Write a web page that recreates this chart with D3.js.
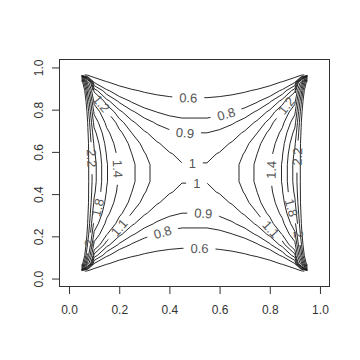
<!DOCTYPE html>
<html>
<head>
<meta charset="utf-8">
<script src="https://cdn.jsdelivr.net/npm/d3@7"></script>
<style>
  body { margin: 0; background: #fff; }
  svg { display: block; }
</style>
</head>
<body>
<div id="chart"></div>
<script>
// grid of the surface (x across, y up); 0.5 itself is not a grid column
const xs = [0.05, 0.075, 0.1, 0.15, 0.2, 0.25, 0.3, 0.35, 0.4, 0.45, 0.55, 0.6, 0.65, 0.7, 0.75, 0.8, 0.85, 0.9, 0.925, 0.95];
const ys = [0.035, 0.07, 0.11, 0.16, 0.21, 0.26, 0.31, 0.36, 0.41, 0.46, 0.54, 0.59, 0.64, 0.69, 0.74, 0.79, 0.84, 0.89, 0.93, 0.965];

// z[row for ys[j]][col for xs[i]]
const z = [
  [0.65, 0.55, 0.494, 0.384, 0.326, 0.291, 0.268, 0.253, 0.244, 0.238, 0.238, 0.244, 0.253, 0.268, 0.291, 0.326, 0.384, 0.494, 0.55, 0.65],
  [2.6, 1.5, 0.792, 0.616, 0.523, 0.467, 0.430, 0.406, 0.391, 0.382, 0.382, 0.391, 0.406, 0.430, 0.467, 0.523, 0.616, 0.792, 1.5, 2.6],
  [2.9, 1.9, 1.063, 0.827, 0.702, 0.626, 0.577, 0.545, 0.524, 0.513, 0.513, 0.524, 0.545, 0.577, 0.626, 0.702, 0.827, 1.063, 1.9, 2.9],
  [3.0, 2.15, 1.335, 1.039, 0.882, 0.787, 0.725, 0.685, 0.659, 0.644, 0.644, 0.659, 0.685, 0.725, 0.787, 0.882, 1.039, 1.335, 2.15, 3.0],
  [3.0, 2.3, 1.553, 1.209, 1.026, 0.916, 0.844, 0.797, 0.767, 0.750, 0.750, 0.767, 0.797, 0.844, 0.916, 1.026, 1.209, 1.553, 2.3, 3.0],
  [3.0, 2.38, 1.728, 1.345, 1.142, 1.019, 0.939, 0.886, 0.853, 0.834, 0.834, 0.853, 0.886, 0.939, 1.019, 1.142, 1.345, 1.728, 2.38, 3.0],
  [3.0, 2.42, 1.865, 1.452, 1.233, 1.0995, 1.014, 0.957, 0.921, 0.9003, 0.9003, 0.921, 0.957, 1.014, 1.0995, 1.233, 1.452, 1.865, 2.42, 3.0],
  [3.0, 2.45, 1.968, 1.531, 1.300, 1.160, 1.069, 1.009, 0.971, 0.950, 0.950, 0.971, 1.009, 1.069, 1.160, 1.300, 1.531, 1.968, 2.45, 3.0],
  [3.0, 2.45, 2.038, 1.586, 1.347, 1.201, 1.107, 1.045, 1.006, 0.984, 0.984, 1.006, 1.045, 1.107, 1.201, 1.347, 1.586, 2.038, 2.45, 3.0],
  [3.0, 2.45, 2.077, 1.616, 1.373, 1.225, 1.129, 1.065, 1.025, 1.003, 1.003, 1.025, 1.065, 1.129, 1.225, 1.373, 1.616, 2.077, 2.45, 3.0],
  [3.0, 2.45, 2.077, 1.616, 1.373, 1.225, 1.129, 1.065, 1.025, 1.003, 1.003, 1.025, 1.065, 1.129, 1.225, 1.373, 1.616, 2.077, 2.45, 3.0],
  [3.0, 2.45, 2.038, 1.586, 1.347, 1.201, 1.107, 1.045, 1.006, 0.984, 0.984, 1.006, 1.045, 1.107, 1.201, 1.347, 1.586, 2.038, 2.45, 3.0],
  [3.0, 2.45, 1.968, 1.531, 1.300, 1.160, 1.069, 1.009, 0.971, 0.950, 0.950, 0.971, 1.009, 1.069, 1.160, 1.300, 1.531, 1.968, 2.45, 3.0],
  [3.0, 2.42, 1.865, 1.452, 1.233, 1.0995, 1.014, 0.957, 0.921, 0.9003, 0.9003, 0.921, 0.957, 1.014, 1.0995, 1.233, 1.452, 1.865, 2.42, 3.0],
  [3.0, 2.38, 1.728, 1.345, 1.142, 1.019, 0.939, 0.886, 0.853, 0.834, 0.834, 0.853, 0.886, 0.939, 1.019, 1.142, 1.345, 1.728, 2.38, 3.0],
  [3.0, 2.3, 1.553, 1.209, 1.026, 0.916, 0.844, 0.797, 0.767, 0.750, 0.750, 0.767, 0.797, 0.844, 0.916, 1.026, 1.209, 1.553, 2.3, 3.0],
  [3.0, 2.15, 1.335, 1.039, 0.882, 0.787, 0.725, 0.685, 0.659, 0.644, 0.644, 0.659, 0.685, 0.725, 0.787, 0.882, 1.039, 1.335, 2.15, 3.0],
  [2.9, 1.9, 1.063, 0.827, 0.702, 0.626, 0.577, 0.545, 0.524, 0.513, 0.513, 0.524, 0.545, 0.577, 0.626, 0.702, 0.827, 1.063, 1.9, 2.9],
  [2.6, 1.5, 0.792, 0.616, 0.523, 0.467, 0.430, 0.406, 0.391, 0.382, 0.382, 0.391, 0.406, 0.430, 0.467, 0.523, 0.616, 0.792, 1.5, 2.6],
  [0.65, 0.55, 0.494, 0.384, 0.326, 0.291, 0.268, 0.253, 0.244, 0.238, 0.238, 0.244, 0.253, 0.268, 0.291, 0.326, 0.384, 0.494, 0.55, 0.65]
];

const levels = [0.6, 0.8, 0.9, 1, 1.1, 1.2, 1.4, 1.6, 1.8, 2, 2.2, 2.4];
const xTicks = [0, 0.2, 0.4, 0.6, 0.8, 1];
const yTicks = [0, 0.2, 0.4, 0.6, 0.8, 1];

// where each contour label sits (level, near x, near y) - snapped onto the line
const labelSpots = [
  [0.6, 0.475, 0.85], [0.6, 0.52, 0.155],
  [0.8, 0.625, 0.785], [0.8, 0.37, 0.23],
  [0.9, 0.462, 0.696], [0.9, 0.535, 0.31],
  [1, 0.491, 0.562], [1, 0.509, 0.448],
  [1.1, 0.19, 0.25], [1.1, 0.8, 0.23],
  [1.2, 0.13, 0.83], [1.2, 0.861, 0.823],
  [1.4, 0.196, 0.52], [1.4, 0.8, 0.515],
  [1.8, 0.124, 0.333], [1.8, 0.88, 0.333],
  [2, 0.068, 0.17], [2, 0.92, 0.21],
  [2.2, 0.09, 0.57], [2.2, 0.904, 0.578]
];

const W = 360, H = 360;
const margin = { top: 59, right: 30, bottom: 73, left: 59 };
const labelFont = 13, labelGap = 7;

const svg = d3.select('#chart').append('svg')
  .attr('width', W)
  .attr('height', H);

const x = d3.scaleLinear().domain([-0.04, 1.04]).range([margin.left, W - margin.right]);
const y = d3.scaleLinear().domain([-0.04, 1.04]).range([H - margin.bottom, margin.top]);

// marching squares -> edge keys, stitched into polylines
function traceLevel(level) {
  const segs = [];
  for (let j = 0; j < ys.length - 1; j++) {
    for (let i = 0; i < xs.length - 1; i++) {
      const a = z[j][i] >= level, b = z[j][i + 1] >= level;
      const c = z[j + 1][i + 1] >= level, d = z[j + 1][i] >= level;
      const B = 'h' + i + ',' + j, R = 'v' + (i + 1) + ',' + j;
      const T = 'h' + i + ',' + (j + 1), L = 'v' + i + ',' + j;
      const hit = [];
      if (a !== b) hit.push(B);
      if (b !== c) hit.push(R);
      if (c !== d) hit.push(T);
      if (d !== a) hit.push(L);
      if (hit.length === 2) segs.push(hit);
      else if (hit.length === 4) {
        const mid = (z[j][i] + z[j][i + 1] + z[j + 1][i + 1] + z[j + 1][i]) / 4 >= level;
        if (mid === a) { segs.push([B, R]); segs.push([T, L]); }
        else { segs.push([B, L]); segs.push([R, T]); }
      }
    }
  }
  const byKey = new Map();
  segs.forEach((s, k) => s.forEach(e => {
    if (!byKey.has(e)) byKey.set(e, []);
    byKey.get(e).push(k);
  }));
  const used = segs.map(() => false);
  const lines = [];
  const walk = (k, start) => {
    const keys = [start];
    let cur = k, at = start;
    while (cur !== undefined) {
      used[cur] = true;
      const next = segs[cur][0] === at ? segs[cur][1] : segs[cur][0];
      keys.push(next);
      at = next;
      cur = byKey.get(next).find(m => !used[m]);
    }
    return keys;
  };
  segs.forEach((s, k) => {
    if (used[k]) return;
    const open = s.find(e => byKey.get(e).length === 1);
    if (open) lines.push(walk(k, open));
  });
  segs.forEach((s, k) => { if (!used[k]) lines.push(walk(k, s[0])); });
  return lines.map(keys => keys.map(key => edgePoint(key, level)));
}

function edgePoint(key, level) {
  const [i, j] = key.slice(1).split(',').map(Number);
  if (key[0] === 'h') {
    const p = (level - z[j][i]) / (z[j][i + 1] - z[j][i]);
    return [x(xs[i] + p * (xs[i + 1] - xs[i])), y(ys[j])];
  }
  const p = (level - z[j][i]) / (z[j + 1][i] - z[j][i]);
  return [x(xs[i]), y(ys[j] + p * (ys[j + 1] - ys[j]))];
}

function cumLen(pts) {
  const c = [0];
  for (let k = 1; k < pts.length; k++) {
    c.push(c[k - 1] + Math.hypot(pts[k][0] - pts[k - 1][0], pts[k][1] - pts[k - 1][1]));
  }
  return c;
}

function pointAt(pts, cum, s) {
  s = Math.max(0, Math.min(cum[cum.length - 1], s));
  let k = 0;
  while (k < cum.length - 2 && cum[k + 1] < s) k++;
  const seg = cum[k + 1] - cum[k] || 1;
  const t = (s - cum[k]) / seg;
  return [pts[k][0] + t * (pts[k + 1][0] - pts[k][0]), pts[k][1] + t * (pts[k + 1][1] - pts[k][1])];
}

function measure(txt) {
  const t = svg.append('text')
    .attr('font-family', 'Liberation Sans, Arial, sans-serif')
    .attr('font-size', labelFont)
    .text(txt);
  const w = t.node().getComputedTextLength();
  t.remove();
  return w;
}

const contours = levels.map(level => ({
  level,
  lines: traceLevel(level).map(pts => ({ pts, cum: cumLen(pts), cuts: [] }))
}));

const labels = [];
labelSpots.forEach(([level, lx, ly]) => {
  const c = contours.find(d => d.level === level);
  if (!c) return;
  const px = x(lx), py = y(ly);
  let best = null;
  c.lines.forEach(line => {
    line.pts.forEach((p, k) => {
      if (k === line.pts.length - 1) return;
      const q = line.pts[k + 1];
      const dx = q[0] - p[0], dy = q[1] - p[1];
      const len2 = dx * dx + dy * dy || 1;
      const t = Math.max(0, Math.min(1, ((px - p[0]) * dx + (py - p[1]) * dy) / len2));
      const d = Math.hypot(p[0] + t * dx - px, p[1] + t * dy - py);
      if (!best || d < best.d) best = { d, line, s: line.cum[k] + t * (line.cum[k + 1] - line.cum[k]) };
    });
  });
  if (!best) return;
  const text = String(level);
  const w = measure(text);
  const half = w / 2 + labelGap;
  const L = best.line.cum[best.line.cum.length - 1];
  if (L < 2 * half) return;
  const s = Math.max(half, Math.min(L - half, best.s));
  const p0 = pointAt(best.line.pts, best.line.cum, s - w / 2);
  const p1 = pointAt(best.line.pts, best.line.cum, s + w / 2);
  let ang = Math.atan2(p1[1] - p0[1], p1[0] - p0[0]) * 180 / Math.PI;
  if (ang > 90) ang -= 180;
  if (ang <= -90) ang += 180;
  const at = pointAt(best.line.pts, best.line.cum, s);
  best.line.cuts.push([s - half, s + half]);
  labels.push({ text, at, ang });
});

// split each polyline around its label gaps
function visibleParts(line) {
  const L = line.cum[line.cum.length - 1];
  const cuts = line.cuts.slice().sort((a, b) => a[0] - b[0]);
  const ranges = [];
  let from = 0;
  cuts.forEach(([a, b]) => { if (a > from) ranges.push([from, a]); from = Math.max(from, b); });
  if (from < L) ranges.push([from, L]);
  return ranges.map(([a, b]) => {
    const pts = [pointAt(line.pts, line.cum, a)];
    line.pts.forEach((p, k) => { if (line.cum[k] > a && line.cum[k] < b) pts.push(p); });
    pts.push(pointAt(line.pts, line.cum, b));
    return pts;
  });
}

const lineGen = d3.line();
const parts = [];
contours.forEach(c => c.lines.forEach(line => visibleParts(line).forEach(p => parts.push(p))));

svg.append('g')
  .selectAll('path')
  .data(parts)
  .enter().append('path')
  .attr('d', lineGen)
  .attr('fill', 'none')
  .attr('stroke', '#111')
  .attr('stroke-width', 0.9)
  .attr('stroke-linejoin', 'round');

svg.append('g')
  .selectAll('text')
  .data(labels)
  .enter().append('text')
  .attr('transform', d => `translate(${d.at[0]},${d.at[1]}) rotate(${d.ang})`)
  .attr('text-anchor', 'middle')
  .attr('dy', '0.36em')
  .attr('font-family', 'Liberation Sans, Arial, sans-serif')
  .attr('font-size', labelFont)
  .attr('fill', '#555')
  .text(d => d.text);

// axes
svg.append('g')
  .attr('transform', `translate(0,${H - margin.bottom})`)
  .call(d3.axisBottom(x).tickValues(xTicks).tickFormat(d3.format('.1f')).tickSize(7).tickPadding(11.5))
  .call(g => g.select('.domain').remove())
  .attr('font-family', 'Liberation Sans, Arial, sans-serif')
  .attr('font-size', 12)
  .call(g => g.selectAll('.tick line').attr('stroke', '#333'))
  .call(g => g.selectAll('.tick text').attr('fill', '#333'));

svg.append('g')
  .attr('transform', `translate(${margin.left},0)`)
  .call(d3.axisLeft(y).tickValues(yTicks).tickFormat(d3.format('.1f')).tickSize(7))
  .call(g => g.select('.domain').remove())
  .attr('font-family', 'Liberation Sans, Arial, sans-serif')
  .attr('font-size', 12)
  .call(g => g.selectAll('.tick line').attr('stroke', '#333'))
  .call(g => g.selectAll('.tick text')
    .attr('x', 0)
    .attr('y', -16)
    .attr('dy', 0)
    .attr('text-anchor', 'middle')
    .attr('transform', 'rotate(-90)')
    .attr('fill', '#333'));

svg.append('rect')
  .attr('x', margin.left + 0.5)
  .attr('y', margin.top + 0.5)
  .attr('width', W - margin.left - margin.right - 1)
  .attr('height', H - margin.top - margin.bottom - 1)
  .attr('fill', 'none')
  .attr('stroke', '#333');
</script>
</body>
</html>
